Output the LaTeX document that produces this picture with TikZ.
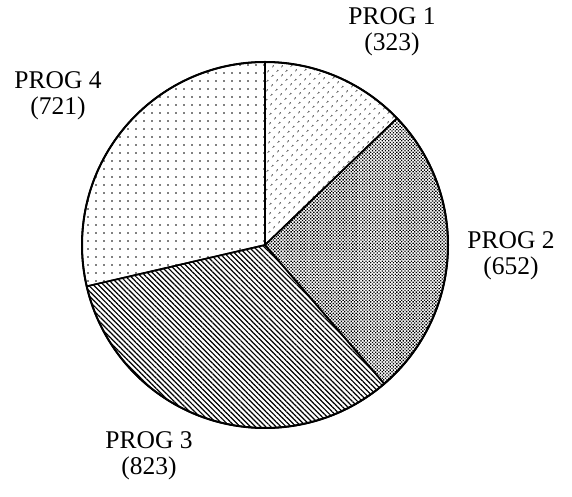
\documentclass[tikz,border=0pt]{standalone}
\usepackage{fontspec}
\setmainfont{Liberation Serif}
\usetikzlibrary{patterns.meta}

\begin{document}
\begin{tikzpicture}[x=1pt,y=1pt,line join=round]
        \tikzstyle{slice}=[draw=black,line width=1.6pt]
        \tikzstyle{prog1}=[slice,pattern={Dots[distance=6.5pt,radius=0.95pt,angle=45]}]
        \tikzstyle{prog2}=[slice,pattern={Dots[distance=2.3pt,radius=0.95pt,angle=45]}]
        \tikzstyle{prog3}=[slice,pattern={Lines[angle=-45,distance=3.6pt,line width=1.2pt]}]
        \tikzstyle{prog4}=[slice,pattern={Dots[distance=8pt,radius=0.8pt]}]
        \tikzstyle{label}=[align=center,font=\fontsize{25.5}{26}\selectfont,inner sep=0pt]
        \useasboundingbox (0,0) rectangle (572,497);
        \coordinate (O) at (265,252);

        % slices, clockwise from the top
        \foreach \num/\a/\b in {1/90/43.84, 2/43.84/-49.34, 3/-49.34/-166.95, 4/-166.95/-270}
                \path[prog\num] (O) -- ++(\a:183) arc[start angle=\a,end angle=\b,radius=183] -- cycle;
        \draw[line width=2pt] (O) circle[radius=183];

        \node[label] (L-1) at (392,465) {PROG 1\\(323)};
        \node[label] (L-2) at (511,241) {PROG 2\\(652)};
        \node[label] (L-3) at (149,41) {PROG 3\\(823)};
        \node[label] (L-4) at (58,401) {PROG 4\\(721)};
\end{tikzpicture}
\end{document}
